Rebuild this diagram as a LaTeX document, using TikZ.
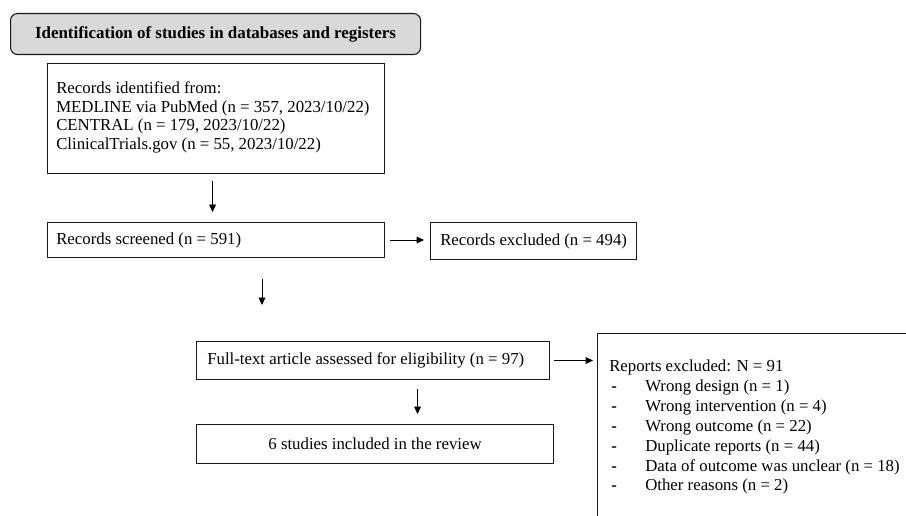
\documentclass[tikz,border=0pt]{standalone}
\usepackage{fontspec}
\setmainfont{Liberation Serif}
\usetikzlibrary{arrows.meta, positioning}
\definecolor{prGray}{RGB}{217,217,217}
\definecolor{prLine}{RGB}{25,25,25}
\newdimen\px
\px=0.75pt

\begin{document}
\begin{tikzpicture}[
    font=\fontsize{12.6}{14}\selectfont, x=1\px, y=-1\px,
    box/.style={draw=prLine, line width=0.8pt, anchor=north west, inner sep=0pt},
    txt/.style={anchor=west, inner sep=0pt, align=left},
    arr/.style={-{Triangle[length=5.5pt, width=5pt]}, line width=0.5pt},
    item/.style={anchor=west, inner sep=0pt}
]
\useasboundingbox (0,0) rectangle (906,516);

% header
\node[draw=prLine, line width=0.8pt, fill=prGray, rounded corners=7\px,
      anchor=north west, minimum width=410\px, minimum height=41\px,
      font=\fontsize{12.7}{14}\selectfont\bfseries] (head) at (10,13)
     {Identification of studies in databases and registers};

% boxes
\node[box, minimum width=337\px, minimum height=110\px] (ident) at (47,63) {};
\node[txt, right=9\px of ident.west, yshift=1\px] (identT)
     {Records identified from:\\
      MEDLINE via PubMed (n = 357, 2023/10/22)\\
      CENTRAL (n = 179, 2023/10/22)\\
      ClinicalTrials.gov (n = 55, 2023/10/22)};
\node[box, minimum width=337\px, minimum height=35\px] (scr) at (47,222) {};
\node[txt, right=9\px of scr.west] (scrT) {Records screened (n = 591)};
\node[box, minimum width=206\px, minimum height=37\px] (excl) at (430,222) {};
\node[txt, right=10\px of excl.west] (exclT) {Records excluded (n = 494)};
\node[box, minimum width=353\px, minimum height=38\px] (full) at (196,341) {};
\node[txt, right=11\px of full.west] (fullT) {Full-text article assessed for eligibility (n = 97)};
\node[box, minimum width=357\px, minimum height=39\px] (incl) at (196,424)
     {6 studies included in the review};
\node[box, minimum width=320\px, minimum height=200\px] (rep) at (597,333) {};

% reasons
\node[item] (rep0) at (609,367) {Reports excluded: N = 91};
\foreach \k/\y/\txt in {1/387/{Wrong design (n = 1)},
                        2/407/{Wrong intervention (n = 4)},
                        3/427/{Wrong outcome (n = 22)},
                        4/447/{Duplicate reports (n = 44)},
                        5/467/{Data of outcome was unclear (n = 18)},
                        6/486/{Other reasons (n = 2)}} {
   \node[item, font=\fontsize{12.6}{14}\selectfont\bfseries] (dash\k) at (611,\y+2) {-};
   \node[item] (rep\k) at (645,\y) {\txt};
}

% arrows
\draw[arr, shorten <=7\px, shorten >=10\px]
     ([xshift=-3.5\px]ident.south) -- ([xshift=-3.5\px]ident.south |- scr.north);
\draw[arr, shorten <=5\px, shorten >=6\px] (scr.east) -- (scr.east -| excl.west);
\draw[arr, shorten <=21\px, shorten >=36\px]
     ([xshift=215\px]scr.south west) -- ([xshift=215\px]scr.south west |- full.north);
\draw[arr, shorten <=4\px, shorten >=4\px] (full.east) -- (full.east -| rep.west);
\draw[arr, shorten <=9\px, shorten >=10\px]
     ([xshift=44.5\px]full.south) -- ([xshift=44.5\px]full.south |- incl.north);
\end{tikzpicture}
\end{document}
